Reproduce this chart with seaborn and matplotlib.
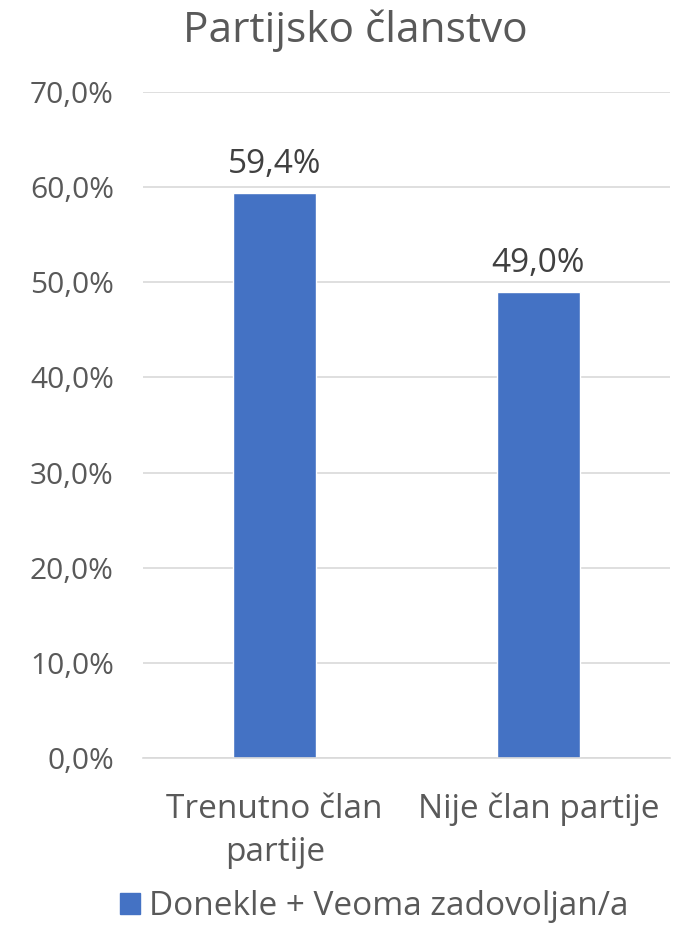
import matplotlib
matplotlib.use("Agg")
import matplotlib.pyplot as plt
import seaborn as sns
import pandas as pd
from matplotlib.patches import Patch
from matplotlib.ticker import FuncFormatter, MultipleLocator

categories = ["Trenutno član\npartije", "Nije član partije"]
values = [59.4, 49.0]
series_name = "Donekle + Veoma zadovoljan/a"
title = "Partijsko članstvo"

df = pd.DataFrame({"cat": categories, "val": values})

sns.set_style("white")
plt.rcParams['font.family'] = ['Open Sans', 'DejaVu Sans']

fig = plt.figure(figsize=(6.84, 9.36), dpi=100)
ax = fig.add_axes([143/684, (936-758)/936, (670-143)/684, (758-92)/936])

color = "#4472C4"
sns.barplot(data=df, x="cat", y="val", color=color, width=0.315, ax=ax, saturation=1)

ax.set_ylim(0, 70)
ax.set_xlim(-0.5, 1.5)
ax.yaxis.set_major_locator(MultipleLocator(10))
ax.yaxis.set_major_formatter(FuncFormatter(lambda v, p: f"{v:.1f}%".replace(".", ",")))
ax.grid(axis="y", color="#D9D9D9", linewidth=1.2)
ax.set_axisbelow(True)
for s in ["top", "right", "left"]:
    ax.spines[s].set_visible(False)
ax.spines["bottom"].set_color("#D9D9D9")
ax.spines["bottom"].set_linewidth(1.2)
ax.tick_params(axis="y", length=0, labelsize=21.5, colors="#595959", pad=21)
ax.tick_params(axis="x", length=0, labelsize=24, colors="#595959", pad=25)
for lbl in ax.get_xticklabels():
    lbl.set_linespacing(1.42)
ax.set_xlabel("")
ax.set_ylabel("")

for i, v in enumerate(values):
    ax.annotate(f"{v:.1f}%".replace(".", ","), xy=(i, v), xytext=(0, 14),
                textcoords="offset points", ha="center", va="baseline",
                fontsize=24, color="#404040")

fig.text(0.52, 0.967, title, ha="center", va="center", fontsize=30.5, color="#595959")

handles = [Patch(facecolor=color, edgecolor=color, label=series_name)]
fig.legend(handles=handles, loc="center", bbox_to_anchor=(0.547, 0.031), frameon=False,
           fontsize=24, handlelength=0.6, handleheight=0.6, handletextpad=0.25,
           labelcolor="#595959")

fig.savefig("out.png", dpi=100)
